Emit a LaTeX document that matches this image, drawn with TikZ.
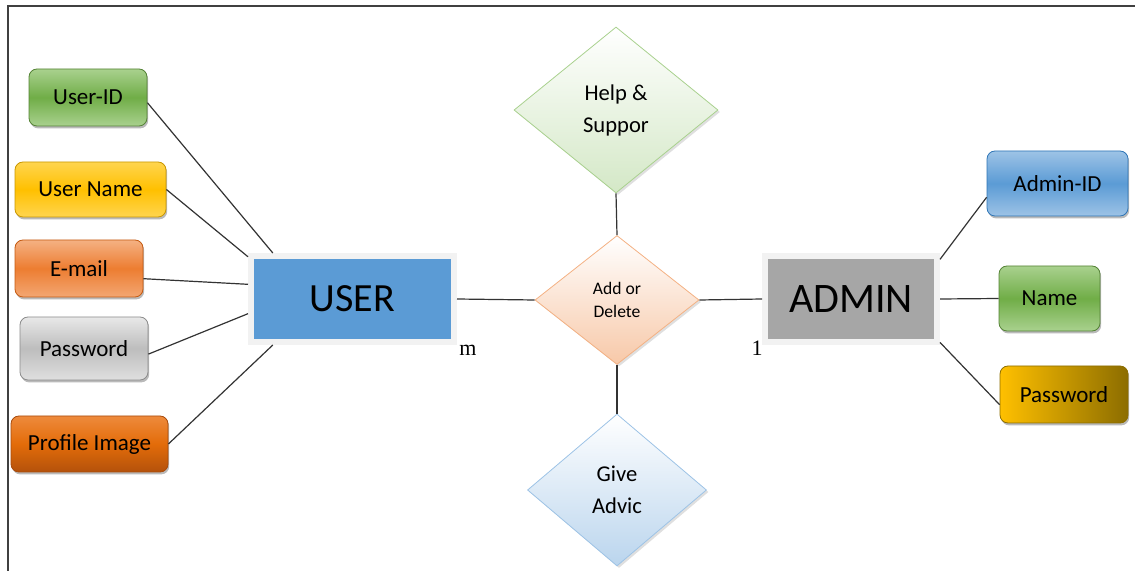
\documentclass[tikz,border=0pt]{standalone}
\usepackage{fontspec}
\setmainfont{Carlito}
\newfontfamily\cardfont{Liberation Serif}
\usetikzlibrary{positioning}
\usetikzlibrary{shapes.geometric, shadows}
\usepackage{xcolor}

\definecolor{grnL}{HTML}{A9D18E}
\definecolor{grnM}{HTML}{70AD47}
\definecolor{grnD}{HTML}{548235}
\definecolor{ylwL}{HTML}{FFD54F}
\definecolor{ylwM}{HTML}{FFC000}
\definecolor{ylwD}{HTML}{C99700}
\definecolor{orgL}{HTML}{F4B183}
\definecolor{orgM}{HTML}{ED7D31}
\definecolor{orgD}{HTML}{C55A11}
\definecolor{gryL}{HTML}{E8E8E8}
\definecolor{gryM}{HTML}{BDBDBD}
\definecolor{gryD}{HTML}{8C8C8C}
\definecolor{prfL}{HTML}{EE8A3C}
\definecolor{prfM}{HTML}{E36C09}
\definecolor{prfD}{HTML}{A84B0C}
\definecolor{bluL}{HTML}{9DC3E6}
\definecolor{bluM}{HTML}{5B9BD5}
\definecolor{bluD}{HTML}{2E75B6}
\definecolor{gldL}{HTML}{FFC000}
\definecolor{gldD}{HTML}{8C6D00}
\definecolor{userFill}{HTML}{5B9BD5}
\definecolor{adminFill}{HTML}{A6A6A6}
\definecolor{boxEdge}{HTML}{F2F2F2}
\definecolor{lineGray}{HTML}{333333}

\tikzset{
	attr/.style={rectangle, rounded corners=4pt, inner sep=2pt, font=\fontsize{11.5}{13}\selectfont,
		drop shadow={shadow xshift=0.6pt, shadow yshift=-1.2pt, opacity=0.45, fill=black!60}},
	entity/.style={rectangle, line width=3pt, draw=boxEdge, minimum height=43pt,
		drop shadow={shadow xshift=1.2pt, shadow yshift=-1.2pt, opacity=0.35, fill=black!40}},
	rel/.style={diamond, inner sep=0pt, align=center, top color=white,
		drop shadow={shadow xshift=1pt, shadow yshift=-1pt, opacity=0.25, fill=black!50}},
	conn/.style={draw=lineGray, line width=0.6pt},
	card/.style={font=\cardfont\fontsize{11}{13}\selectfont, inner sep=0pt}
}

\begin{document}
\begin{tikzpicture}[x=0.5pt, y=-0.5pt]
	\useasboundingbox (0,0) rectangle (1135,571);
	% frame
	\draw[black!75, line width=1.1pt] (8,571) -- (8,6) -- (1135,6);
	% entities
	\node[entity, fill=userFill, minimum width=101.5pt, font=\fontsize{20}{24}\selectfont] (user) at (352.5,299) {USER};
	\node[entity, fill=adminFill, minimum width=86pt, font=\fontsize{21}{24}\selectfont] (admin) at (851,299) {ADMIN};
	\node[card] (cardM) at (468,350) {m};
	\node[card] (cardOne) at (757,348) {1};
	% relations
	\node[rel, bottom color=grnL!50, draw=grnL, minimum width=102pt, minimum height=83pt,
		font=\fontsize{11.3}{16}\selectfont] (help) at (616,110) {Help \&\\Suppor};
	\node[rel, bottom color=orgL!70, draw=orgL, minimum width=82pt, minimum height=64.5pt,
		font=\fontsize{8.8}{11.5}\selectfont] (addDel) at (617,300) {Add or\\Delete};
	\node[rel, bottom color=bluL!70, draw=bluL, minimum width=89.5pt, minimum height=76pt,
		font=\fontsize{11.3}{16}\selectfont] (advice) at (617,490) {Give\\Advic};
	% user attributes
	\node[attr, minimum width=59pt, minimum height=28.5pt, top color=grnL, bottom color=grnL, middle color=grnM, draw=grnD] (userId) at (88,97.5) {User-ID};
	\node[attr, minimum width=75.5pt, minimum height=27.5pt, top color=ylwL, bottom color=ylwL, middle color=ylwM, draw=ylwD] (userName) at (90.5,189.5) {User Name};
	\node[attr, minimum width=64pt, minimum height=28.5pt, top color=orgL, bottom color=orgL!80!orgM, middle color=orgM, draw=orgD] (email) at (79,268.5) {E-mail};
	\node[attr, minimum width=64pt, minimum height=31.5pt, top color=gryL, bottom color=gryL!80!gryM, middle color=gryM, draw=gryD] (userPass) at (84,348.5) {Password};
	\node[attr, minimum width=78.5pt, minimum height=28pt, top color=prfL, bottom color=prfD!80!prfM, middle color=prfM, draw=prfD] (profImg) at (89.5,444) {Profile Image};
	% admin attributes
	\node[attr, minimum width=70.5pt, minimum height=32.5pt, top color=bluL, bottom color=bluL, middle color=bluM, draw=bluD] (adminId) at (1057.5,183.5) {Admin-ID};
	\node[attr, minimum width=50.5pt, minimum height=32.5pt, top color=grnL, bottom color=grnL, middle color=grnM, draw=grnD] (adminName) at (1049.5,298.5) {Name};
	\node[attr, minimum width=64pt, minimum height=28.5pt, left color=gldL, right color=gldD, draw=gldD] (adminPass) at (1064,394.5) {Password};
	% links
	\draw[conn] (help.south) -- (addDel.north);
	\draw[conn] (addDel.south) -- (advice.north);
	\draw[conn] (user.east) -- (addDel.west);
	\draw[conn] (addDel.east) -- (admin.west);
	\draw[conn] (userId.-5) -- (user.150);
	\draw[conn] (userName.east) -- (user.158);
	\draw[conn] (email.-9) -- (user.172);
	\draw[conn] (userPass.-5) -- (user.188);
	\draw[conn] (profImg.east) -- (user.210);
	\draw[conn] (admin.24) -- (adminId.191);
	\draw[conn] (admin.east) -- (adminName.west);
	\draw[conn] (admin.334) -- (adminPass.189);
\end{tikzpicture}
\end{document}
